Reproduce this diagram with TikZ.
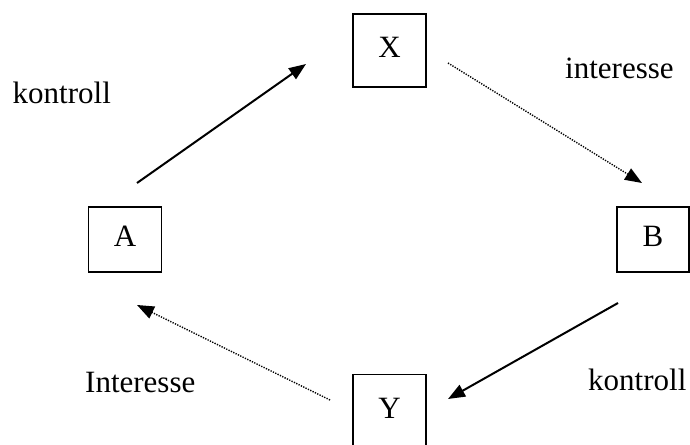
\documentclass[tikz,border=0pt]{standalone}
\usepackage{fontspec}
\setmainfont{Liberation Serif}
\usetikzlibrary{arrows.meta}
\begin{document}
\begin{tikzpicture}[x=1pt,y=-1pt,
  box/.style={draw, line width=1.5pt, inner sep=0pt, minimum width=73pt,
    font=\fontsize{31}{31}\selectfont, text height=22pt, text depth=8pt},
  lbl/.style={anchor=base west, inner sep=0pt, font=\fontsize{31}{31}\selectfont},
  solidarrow/.style={line width=2pt, -{Triangle[length=17pt,width=13pt]}},
  dotarrow/.style={line width=1.4pt, dash pattern=on 1.3pt off 1.3pt, -{Triangle[length=17pt,width=13pt]}}
]
\useasboundingbox (0,0) rectangle (690,444);
\begin{scope}
\clip (0,0) rectangle (690,444);
\node[box, minimum height=73pt] (X) at (389.5,50.5) {X};
\node[box, minimum height=65pt] (A) at (125,239.5) {A};
\node[box, minimum height=65pt, minimum width=72pt] (B) at (653,239.5) {B};
\node[box, minimum height=73pt] (Y) at (389.5,411) {Y};
\end{scope}
\node[lbl] (k1) at (12.5,103) {kontroll};
\node[lbl] (i1) at (565,78) {interesse};
\node[lbl] (i2) at (85,392) {Interesse};
\node[lbl] (k2) at (588,390) {kontroll};
\coordinate (axs) at (137,183);
\coordinate (axe) at (306,64);
\coordinate (xbs) at (448,63);
\coordinate (xbe) at (642,183);
\coordinate (bys) at (618,303);
\coordinate (bye) at (448,399);
\coordinate (yas) at (330,400);
\coordinate (yae) at (137,305);
\draw[solidarrow] (axs) -- (axe);
\draw[dotarrow] (xbs) -- (xbe);
\draw[solidarrow] (bys) -- (bye);
\draw[dotarrow] (yas) -- (yae);
\end{tikzpicture}
\end{document}
